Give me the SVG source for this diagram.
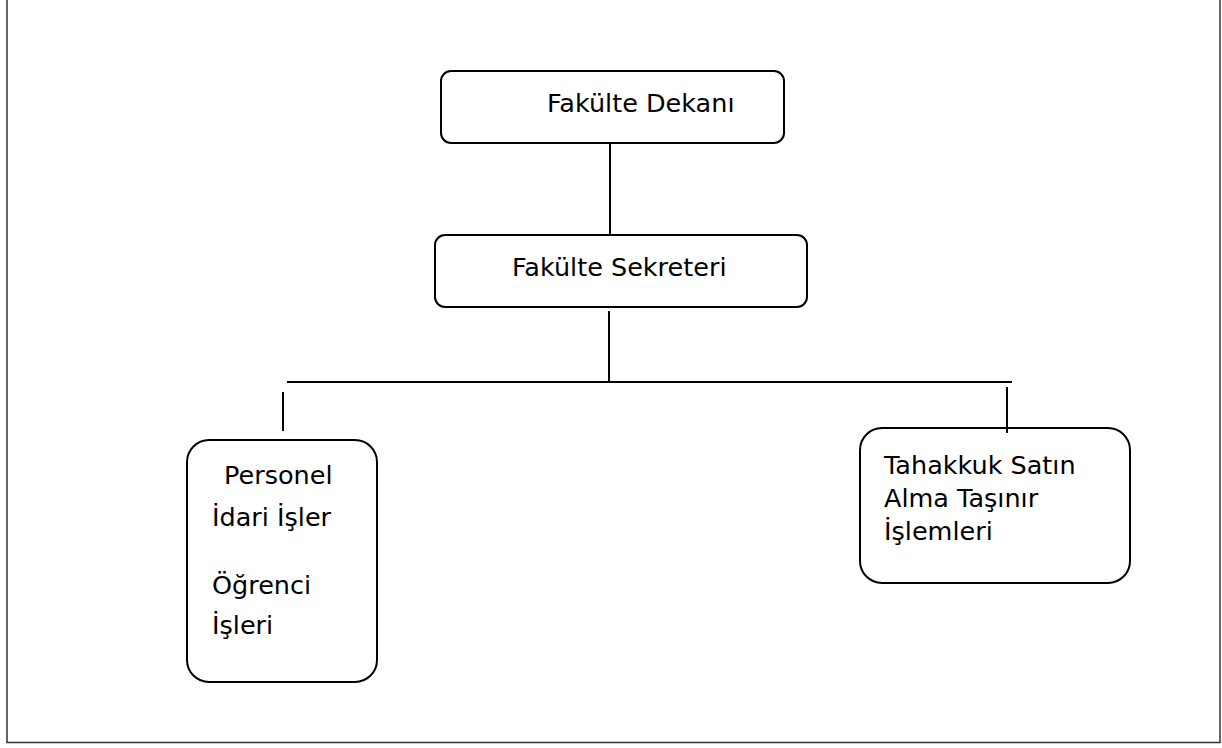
<svg xmlns="http://www.w3.org/2000/svg" width="1222" height="748" viewBox="0 0 1222 748">
<style>
.box{fill:#fff;stroke:#000;stroke-width:2}
.t{font-family:"DejaVu Sans",sans-serif;font-size:25.5px;fill:#000}
.c line{stroke:#000;stroke-width:2}
</style>
<rect x="0" y="0" width="1222" height="748" fill="#fff"/>
<rect x="7" y="-10" width="1213" height="752.5" fill="none" stroke="#333" stroke-width="1.5"/>
<g id="dekan">
<rect class="box" x="441" y="71" width="343" height="72" rx="10"/>
<text class="t" x="547" y="112">Fakülte Dekanı</text>
</g>
<g id="sekreter">
<rect class="box" x="435" y="235" width="372" height="72" rx="10"/>
<text class="t" x="512" y="276">Fakülte Sekreteri</text>
</g>
<g id="personel">
<rect class="box" x="187" y="440" width="190" height="242" rx="22"/>
<text class="t" x="224" y="484">Personel</text>
<text class="t" x="212" y="526">İdari İşler</text>
<text class="t" x="212" y="594">Öğrenci</text>
<text class="t" x="212" y="634">İşleri</text>
</g>
<g id="tahakkuk">
<rect class="box" x="860" y="428" width="270" height="155" rx="22"/>
<text class="t" x="884" y="474">Tahakkuk Satın</text>
<text class="t" x="884" y="507">Alma Taşınır</text>
<text class="t" x="884" y="540">İşlemleri</text>
</g>
<g id="connectors" class="c">
<line x1="610" y1="143" x2="610" y2="235"/>
<line x1="609" y1="311" x2="609" y2="382"/>
<line x1="287" y1="382" x2="1012" y2="382"/>
<line x1="283" y1="392" x2="283" y2="431"/>
<line x1="1007" y1="387" x2="1007" y2="433"/>
</g>
</svg>
